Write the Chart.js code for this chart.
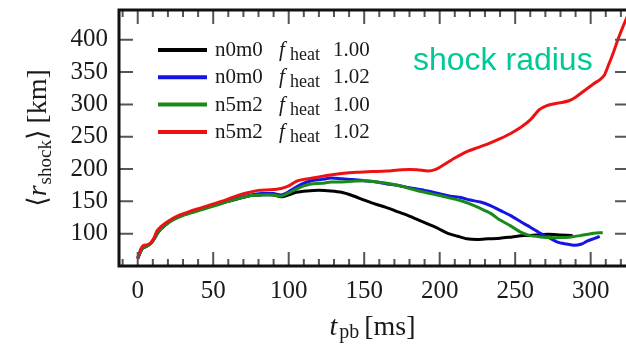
<!DOCTYPE html>
<html>
<head>
<meta charset="utf-8">
<script src="https://cdn.jsdelivr.net/npm/chart.js@4/dist/chart.umd.min.js"></script>
<style>
  body { margin: 0; background: #fff; }
  #wrap { width: 626px; height: 344px; }
</style>
</head>
<body>
<div id="wrap"><canvas id="shock"></canvas></div>
<script>
// post-bounce time [ms] and mean shock radius [km] per run
const blackT = [0, 3, 7, 10, 14, 18, 24, 30, 38, 45, 52, 60, 68, 75, 82, 90, 95, 100, 105, 112, 120, 128, 135, 142, 150, 157, 164, 171, 178, 185, 192, 199, 205, 212, 218, 225, 232, 240, 248, 256, 264, 272, 280, 288];
const blackR = [62, 77, 82, 89, 104, 113, 123, 129, 135, 140, 145, 150, 155, 159, 160, 160, 157, 160, 164, 166, 167, 166, 164, 159, 152, 146, 141, 135, 129, 122, 115, 108, 101, 96, 92, 91, 92, 93, 95, 97, 98, 99, 98, 97];

const blueT = [0, 3, 7, 10, 14, 18, 24, 30, 38, 45, 52, 60, 68, 75, 82, 90, 95, 100, 105, 110, 115, 122, 128, 135, 142, 150, 158, 165, 172, 180, 190, 200, 207, 214, 220, 227, 234, 240, 247, 254, 260, 267, 273, 278, 284, 289, 294, 298, 303, 306];
const blueR = [62, 77, 82, 89, 104, 113, 123, 129, 135, 140, 145, 151, 156, 160, 162, 162, 160, 165, 172, 178, 182, 184, 186, 185, 184, 182, 180, 177, 175, 171, 167, 162, 158, 156, 152, 149, 143, 136, 128, 118, 110, 100, 93, 87, 84, 82, 84, 89, 93, 96];

const greenT = [0, 3, 7, 10, 14, 18, 24, 30, 38, 45, 52, 60, 68, 75, 82, 90, 95, 100, 105, 110, 115, 122, 128, 135, 142, 150, 158, 165, 172, 180, 190, 200, 207, 214, 220, 227, 234, 240, 247, 254, 260, 267, 273, 280, 287, 293, 300, 308];
const greenR = [62, 77, 82, 89, 104, 113, 122, 128, 134, 139, 144, 150, 155, 159, 160, 160, 158, 163, 169, 174, 177, 178, 180, 180, 181, 182, 180, 178, 175, 170, 164, 159, 155, 151, 146, 139, 131, 121, 112, 102, 97, 95, 94, 94, 95, 97, 100, 102];

const redT = [0, 2, 4, 7, 10, 13, 17, 22, 28, 35, 42, 50, 58, 65, 72, 80, 88, 95, 100, 105, 110, 118, 125, 135, 145, 155, 165, 175, 185, 192, 197, 203, 210, 218, 225, 232, 240, 247, 254, 260, 266, 271, 276, 281, 286, 290, 294, 298, 302, 306, 309, 312, 315, 318, 321, 325];
const redR = [61, 76, 82, 83, 90, 105, 114, 122, 129, 135, 140, 146, 152, 158, 163, 167, 168, 170, 174, 181, 184, 187, 190, 193, 195, 196, 197, 199, 199, 197, 199, 207, 217, 227, 233, 239, 247, 255, 265, 276, 292, 298, 301, 303, 306, 311, 318, 325, 332, 338, 345, 362, 380, 400, 418, 440];

const models = ['n0m0', 'n0m0', 'n5m2', 'n5m2'];
const fheat = ['1.00', '1.02', '1.00', '1.02'];
const colors = ['#000000', '#1414e6', '#1a8a1a', '#ee1111'];

const xTicks = [0, 50, 100, 150, 200, 250, 300];
const yTicks = [100, 150, 200, 250, 300, 350, 400];

const serif = '"Liberation Serif", "DejaVu Serif", serif';

function pts(ts, rs) {
  return ts.map((t, i) => ({ x: t, y: rs[i] }));
}

// draws pieces of text with font changes / sub-scripts, left to right
function drawPieces(ctx, pieces, x, y) {
  let cx = x;
  pieces.forEach(p => {
    ctx.font = p.font;
    ctx.fillText(p.text, cx, y + (p.dy || 0));
    cx += ctx.measureText(p.text).width + (p.gap || 0);
  });
  return cx - x;
}

function piecesWidth(ctx, pieces) {
  let w = 0;
  pieces.forEach(p => {
    ctx.font = p.font;
    w += ctx.measureText(p.text).width + (p.gap || 0);
  });
  return w;
}

const decor = {
  id: 'decor',
  afterDatasetsDraw(chart) {
    const ctx = chart.ctx;
    const { left, right, top, bottom } = chart.chartArea;
    const xs = chart.scales.x, ys = chart.scales.y;
    ctx.save();

    // tick marks pointing inward
    ctx.strokeStyle = '#555';
    ctx.lineWidth = 2;
    ctx.beginPath();
    for (let v = -10; v <= 320; v += 10) {
      const px = xs.getPixelForValue(v);
      const len = v % 50 === 0 ? 14 : 7;
      ctx.moveTo(px, bottom); ctx.lineTo(px, bottom - len);
      ctx.moveTo(px, top); ctx.lineTo(px, top + len);
    }
    yTicks.forEach(v => {
      const py = ys.getPixelForValue(v);
      ctx.moveTo(left, py); ctx.lineTo(left + 14, py);
      ctx.moveTo(right, py); ctx.lineTo(right - 11, py);
    });
    ctx.stroke();

    // frame
    ctx.strokeStyle = '#111';
    ctx.lineWidth = 3;
    ctx.beginPath();
    ctx.moveTo(right + 2, top); ctx.lineTo(left, top); ctx.lineTo(left, bottom); ctx.lineTo(right + 2, bottom);
    ctx.stroke();
    ctx.restore();
  },
  afterDraw(chart) {
    const ctx = chart.ctx;
    ctx.save();
    ctx.fillStyle = '#1a1a1a';
    ctx.textBaseline = 'alphabetic';

    // legend
    models.forEach((m, i) => {
      const ly = 50 + i * 27.3;
      ctx.strokeStyle = colors[i];
      ctx.lineWidth = 4;
      ctx.beginPath();
      ctx.moveTo(158, ly); ctx.lineTo(207, ly);
      ctx.stroke();
      ctx.fillStyle = '#1a1a1a';
      ctx.font = '21px ' + serif;
      ctx.fillText(m, 215, ly + 6);
      ctx.font = 'italic 21px ' + serif;
      ctx.fillText('f', 279, ly + 6);
      ctx.font = '18px ' + serif;
      ctx.fillText('heat', 290, ly + 10);
      ctx.font = '21px ' + serif;
      ctx.fillText(fheat[i], 333, ly + 6);
    });

    // x axis title
    const xt = [
      { text: 't', font: 'italic 28px ' + serif, gap: 2 },
      { text: 'pb', font: '20px ' + serif, dy: 3, gap: 5 },
      { text: '[ms]', font: '28px ' + serif }
    ];
    const { left, right, top, bottom } = chart.chartArea;
    const xw = piecesWidth(ctx, xt);
    drawPieces(ctx, xt, (left + right) / 2 - xw / 2, 335);

    // y axis title
    const yt = [
      { text: '\u27E8', font: '27px ' + serif },
      { text: 'r', font: 'italic 28px ' + serif, gap: 1 },
      { text: 'shock', font: '19px ' + serif, dy: 5 },
      { text: '\u27E9', font: '27px ' + serif, gap: 6 },
      { text: '[km]', font: '28px ' + serif }
    ];
    ctx.save();
    ctx.translate(46, (top + bottom) / 2);
    ctx.rotate(-Math.PI / 2);
    const yw = piecesWidth(ctx, yt);
    drawPieces(ctx, yt, -yw / 2, 0);
    ctx.restore();

    // annotation
    ctx.fillStyle = '#00c995';
    ctx.font = '32px "Liberation Sans", Arial, sans-serif';
    ctx.fillText('shock radius', 413, 70);
    ctx.restore();
  }
};

const series = [pts(blackT, blackR), pts(blueT, blueR), pts(greenT, greenR), pts(redT, redR)];

new Chart(document.getElementById('shock'), {
  type: 'line',
  data: {
    datasets: series.map((d, i) => ({
      label: models[i] + ' fheat ' + fheat[i],
      data: d,
      borderColor: colors[i],
      borderWidth: 3,
      pointRadius: 0,
      tension: 0.25,
      fill: false,
      order: 3 - i
    }))
  },
  options: {
    responsive: true,
    maintainAspectRatio: false,
    animation: false,
    layout: { padding: { top: 10, left: 0, right: 0, bottom: 0 } },
    plugins: { legend: { display: false }, tooltip: { enabled: false } },
    scales: {
      x: {
        type: 'linear',
        min: -12.4,
        max: 323.4,
        afterBuildTicks: s => { s.ticks = xTicks.map(v => ({ value: v })); },
        afterFit: s => { s.height = 78; s.paddingLeft = 0; s.paddingRight = 0; },
        grid: { display: false, drawTicks: false },
        border: { display: false },
        ticks: {
          autoSkip: false, maxRotation: 0, padding: 10,
          color: '#1a1a1a',
          font: { family: serif, size: 25 }
        }
      },
      y: {
        min: 50,
        max: 446,
        afterBuildTicks: s => { s.ticks = yTicks.map(v => ({ value: v })); },
        afterFit: s => { s.width = 119; s.paddingTop = 0; s.paddingBottom = 0; },
        grid: { display: false, drawTicks: false },
        border: { display: false },
        ticks: {
          autoSkip: false, padding: 11,
          color: '#1a1a1a',
          font: { family: serif, size: 25 }
        }
      }
    }
  },
  plugins: [decor]
});
</script>
</body>
</html>
